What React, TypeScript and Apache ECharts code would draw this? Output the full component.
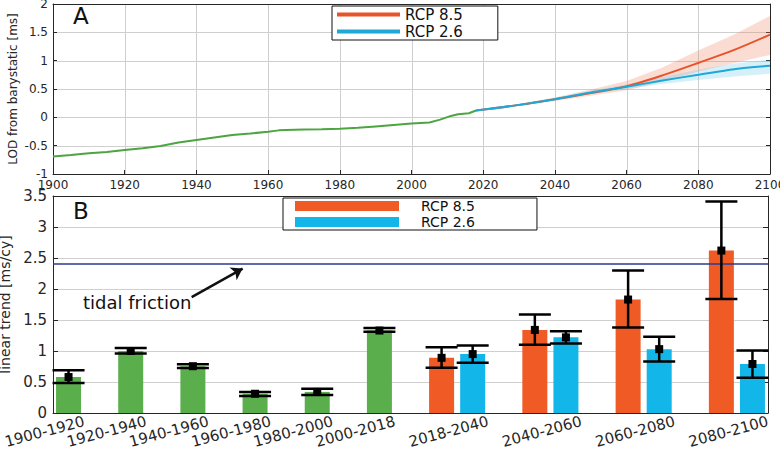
import React, { useEffect, useRef } from "react";
import * as echarts from "echarts";

// ---------- Panel A data ----------
const histYears = [1900, 1905, 1910, 1915, 1920, 1925, 1930, 1935, 1940, 1945, 1950, 1955, 1960, 1963, 1965, 1970, 1975, 1980, 1985, 1990, 1995, 2000, 2005, 2008, 2011, 2013, 2016, 2018];
const histLOD = [-0.69, -0.665, -0.635, -0.61, -0.575, -0.545, -0.505, -0.445, -0.4, -0.355, -0.31, -0.285, -0.255, -0.23, -0.225, -0.215, -0.21, -0.2, -0.185, -0.16, -0.135, -0.11, -0.09, -0.04, 0.025, 0.055, 0.072, 0.12];

const projYears = [2018, 2030, 2040, 2050, 2060, 2070, 2080, 2090, 2100];
const rcp85Mean = [0.12, 0.22, 0.32, 0.43, 0.55, 0.74, 0.96, 1.19, 1.46];
const rcp85Low = [0.12, 0.2, 0.29, 0.38, 0.48, 0.63, 0.81, 0.96, 1.1];
const rcp85High = [0.12, 0.24, 0.35, 0.49, 0.64, 0.88, 1.18, 1.46, 1.79];
const rcp26Mean = [0.12, 0.22, 0.32, 0.44, 0.54, 0.65, 0.75, 0.85, 0.91];
const rcp26Low = [0.12, 0.21, 0.3, 0.41, 0.5, 0.59, 0.66, 0.72, 0.77];
const rcp26High = [0.12, 0.23, 0.34, 0.47, 0.58, 0.71, 0.84, 0.95, 1.02];

// ---------- Panel B data ----------
const obsPeriods = ["1900-1920", "1920-1940", "1940-1960", "1960-1980", "1980-2000", "2000-2018"];
const obsTrend = [0.58, 1.0, 0.755, 0.31, 0.34, 1.33];
const obsLow = [0.485, 0.96, 0.725, 0.275, 0.29, 1.31];
const obsHigh = [0.69, 1.05, 0.785, 0.34, 0.39, 1.37];

const projPeriods = ["2018-2040", "2040-2060", "2060-2080", "2080-2100"];
const rcp85Trend = [0.89, 1.34, 1.83, 2.62];
const rcp85TrendLow = [0.73, 1.1, 1.38, 1.84];
const rcp85TrendHigh = [1.06, 1.59, 2.3, 3.41];
const rcp26Trend = [0.95, 1.22, 1.03, 0.79];
const rcp26TrendLow = [0.81, 1.12, 0.83, 0.57];
const rcp26TrendHigh = [1.09, 1.32, 1.23, 1.01];

const tidalFriction = 2.4;

// axis ranges
const yearMin = 1900, yearMax = 2100, yearStep = 20;
const lodMin = -1, lodMax = 2, lodStep = 0.5;
const trendMin = 0, trendMax = 3.5, trendStep = 0.5;
const barXMin = 0.75, barXMax = 12.25;

// colours
const GREEN_LINE = "#4ca540";
const GREEN_BAR = "#5aae4b";
const ORANGE = "#e8532a";
const ORANGE_BAR = "#f05a24";
const CYAN = "#1ea8d8";
const CYAN_BAR = "#12b6e8";
const AXIS = "#262626";
const GRIDC = "#cfcfcf";
const FONT = "DejaVu Sans";

const innerTicks = (min: number, max: number, step: number) => {
  const out: number[] = [];
  for (let k = 1; min + k * step < max - 1e-9; k++) out.push(+(min + k * step).toFixed(6));
  return out;
};

function bandSeries(name: string, low: number[], high: number[], fill: string) {
  return {
    name, type: "custom", xAxisIndex: 0, yAxisIndex: 0, silent: true, z: 1,
    data: projYears.map((y, i) => [y, low[i], high[i]]),
    encode: { x: 0, y: [1, 2] },
    renderItem: (params: any, api: any) => {
      if (params.dataIndex !== 0) return null;
      const upper = projYears.map((y, i) => api.coord([y, high[i]]));
      const lower = projYears.map((y, i) => api.coord([y, low[i]])).reverse();
      return { type: "polygon", shape: { points: upper.concat(lower) }, style: { fill } };
    },
  };
}

// grid lines: [x, y, kind] kind 0 = vertical at x, 1 = horizontal at y
function gridSeries(name: string, xAxisIndex: number, yAxisIndex: number, data: number[][],
  xr: [number, number], yr: [number, number]) {
  return {
    name, type: "custom", xAxisIndex, yAxisIndex, silent: true, z: 0,
    data, encode: { x: 0, y: 1 },
    renderItem: (_p: any, api: any) => {
      const kind = api.value(2);
      const a = kind === 0 ? api.coord([api.value(0), yr[0]]) : api.coord([xr[0], api.value(1)]);
      const b = kind === 0 ? api.coord([api.value(0), yr[1]]) : api.coord([xr[1], api.value(1)]);
      const x1 = Math.round(a[0]) + 0.5, x2 = Math.round(b[0]) + 0.5;
      const y1 = Math.round(a[1]) + 0.5, y2 = Math.round(b[1]) + 0.5;
      return {
        type: "line",
        shape: kind === 0 ? { x1, y1: a[1], x2: x1, y2: b[1] } : { x1: a[0], y1, x2: b[0], y2: y1 },
        style: { stroke: GRIDC, lineWidth: 1 },
      };
    },
  };
}

const borderAxis = (gridIndex: number, min: number, max: number, position: string) => ({
  type: "value", gridIndex, min, max, position,
  axisLine: { show: true, onZero: false, lineStyle: { color: AXIS } },
  axisTick: { show: false }, axisLabel: { show: false }, splitLine: { show: false },
});

export default function App() {
  const ref = useRef<HTMLDivElement>(null);

  useEffect(() => {
    if (!ref.current) return;
    const chart = echarts.init(ref.current, undefined, { renderer: "svg" });

    // positions on panel B's numeric x axis (layout, computed from indices)
    const obsX = obsPeriods.map((_, i) => i + 1);
    const r85X = projPeriods.map((_, j) => 7 + 1.5 * j);
    const r26X = projPeriods.map((_, j) => 7.5 + 1.5 * j);
    const labelMap: Record<number, string> = {};
    obsPeriods.forEach((p, i) => (labelMap[Math.round((obsX[i] + 0.25) * 4)] = p));
    projPeriods.forEach((p, j) => (labelMap[Math.round((r85X[j] + 0.75) * 4)] = p));

    const errData: number[][] = [];
    obsX.forEach((x, i) => errData.push([x, obsLow[i], obsHigh[i], obsTrend[i]]));
    r85X.forEach((x, j) => errData.push([x, rcp85TrendLow[j], rcp85TrendHigh[j], rcp85Trend[j]]));
    r26X.forEach((x, j) => errData.push([x, rcp26TrendLow[j], rcp26TrendHigh[j], rcp26Trend[j]]));

    const axisTextTop = { color: AXIS, fontFamily: FONT, fontSize: 12 };
    const axisTextBot = { color: AXIS, fontFamily: FONT, fontSize: 15 };

    const topGrid = [
      ...innerTicks(yearMin, yearMax, yearStep).map((v) => [v, lodMin, 0]),
      ...innerTicks(lodMin, lodMax, lodStep).map((v) => [yearMin, v, 1]),
    ];
    const botGrid = innerTicks(trendMin, trendMax, trendStep).map((v) => [barXMin, v, 1]);

    chart.setOption({
      animation: false,
      textStyle: { fontFamily: FONT },
      grid: [
        { left: 53, right: 10, top: 4, height: 170, containLabel: false, outerBoundsMode: "none" },
        { left: 53, right: 12, top: 196, height: 217, containLabel: false, outerBoundsMode: "none" },
      ],
      xAxis: [
        {
          type: "value", gridIndex: 0, min: yearMin, max: yearMax, interval: yearStep, position: "bottom",
          axisLine: { show: true, onZero: false, lineStyle: { color: AXIS } },
          axisTick: { show: true, inside: true, length: 4, lineStyle: { color: AXIS } },
          axisLabel: { ...axisTextTop, margin: 5, formatter: (v: number) => String(v) },
          splitLine: { show: false },
        },
        {
          type: "value", gridIndex: 1, min: barXMin, max: barXMax, interval: 0.25, position: "bottom",
          axisLine: { show: true, onZero: false, lineStyle: { color: AXIS } },
          axisTick: { show: false },
          splitLine: { show: false },
          axisLabel: {
            ...axisTextBot, rotate: 15, margin: 8, interval: 0,
            showMinLabel: true, showMaxLabel: true,
            formatter: (v: number) => labelMap[Math.round(v * 4)] || "",
          },
        },
        borderAxis(0, yearMin, yearMax, "top"),
        borderAxis(1, barXMin, barXMax, "top"),
      ],
      yAxis: [
        {
          type: "value", gridIndex: 0, min: lodMin, max: lodMax, interval: lodStep, position: "left",
          name: "LOD from barystatic [ms]", nameLocation: "middle", nameGap: 34, nameMoveOverlap: false,
          nameTextStyle: { color: AXIS, fontFamily: FONT, fontSize: 12 },
          axisLine: { show: true, onZero: false, lineStyle: { color: AXIS } },
          axisTick: { show: true, inside: true, length: 4, lineStyle: { color: AXIS } },
          axisLabel: { ...axisTextTop, margin: 5 },
          splitLine: { show: false },
        },
        {
          type: "value", gridIndex: 0, min: lodMin, max: lodMax, interval: lodStep, position: "right",
          axisLine: { show: true, onZero: false, lineStyle: { color: AXIS } },
          axisTick: { show: true, inside: true, length: 4, lineStyle: { color: AXIS } },
          axisLabel: { show: false }, splitLine: { show: false },
        },
        {
          type: "value", gridIndex: 1, min: trendMin, max: trendMax, interval: trendStep, position: "left",
          name: "linear trend [ms/cy]", nameLocation: "middle", nameGap: 41, nameMoveOverlap: false,
          nameTextStyle: { color: AXIS, fontFamily: FONT, fontSize: 14 },
          axisLine: { show: true, onZero: false, lineStyle: { color: AXIS } },
          axisTick: { show: true, inside: true, length: 5, lineStyle: { color: AXIS } },
          axisLabel: { ...axisTextBot, margin: 6 },
          splitLine: { show: false },
        },
        {
          type: "value", gridIndex: 1, min: trendMin, max: trendMax, interval: trendStep, position: "right",
          axisLine: { show: true, onZero: false, lineStyle: { color: AXIS } },
          axisTick: { show: true, inside: true, length: 5, lineStyle: { color: AXIS } },
          axisLabel: { show: false }, splitLine: { show: false },
        },
      ],
      legend: [
        {
          data: ["RCP 8.5", "RCP 2.6"], orient: "vertical", left: 332, top: 6,
          icon: "rect", itemWidth: 63, itemHeight: 4, itemGap: 0,
          padding: [0, 35, 0, 5], borderColor: "#111", borderWidth: 1, backgroundColor: "#fff",
          selectedMode: false,
          textStyle: { color: "#111", fontFamily: FONT, fontSize: 15, lineHeight: 17 },
        },
        {
          data: ["RCP 8.5 (B)", "RCP 2.6 (B)"], orient: "vertical", left: 283, top: 198,
          icon: "path://M0,0H104V10H0Z M120.99,4.99H121V5H120.99Z", itemWidth: 121, itemHeight: 10, itemGap: 0,
          padding: [0, 62, 0, 12], borderColor: "#111", borderWidth: 1, backgroundColor: "#fff",
          selectedMode: false,
          formatter: (n: string) => n.replace(" (B)", ""),
          textStyle: { color: "#111", fontFamily: FONT, fontSize: 14, lineHeight: 16 },
        },
      ],
      series: [
        gridSeries("gridA", 0, 0, topGrid, [yearMin, yearMax], [lodMin, lodMax]),
        gridSeries("gridB", 1, 2, botGrid, [barXMin, barXMax], [trendMin, trendMax]),
        // ----- panel A -----
        bandSeries("RCP 8.5 range", rcp85Low, rcp85High, "rgba(240,130,95,0.28)"),
        bandSeries("RCP 2.6 range", rcp26Low, rcp26High, "rgba(90,195,235,0.25)"),
        {
          name: "observed", type: "line", xAxisIndex: 0, yAxisIndex: 0,
          data: histYears.map((y, i) => [y, histLOD[i]]), symbol: "none",
          lineStyle: { color: GREEN_LINE, width: 2 }, itemStyle: { color: GREEN_LINE }, z: 3,
        },
        {
          name: "RCP 8.5", type: "line", xAxisIndex: 0, yAxisIndex: 0,
          data: projYears.map((y, i) => [y, rcp85Mean[i]]), symbol: "none", smooth: 0.3,
          lineStyle: { color: ORANGE, width: 2 }, itemStyle: { color: ORANGE }, z: 3,
        },
        {
          name: "RCP 2.6", type: "line", xAxisIndex: 0, yAxisIndex: 0,
          data: projYears.map((y, i) => [y, rcp26Mean[i]]), symbol: "none", smooth: 0.3,
          lineStyle: { color: CYAN, width: 2 }, itemStyle: { color: CYAN }, z: 4,
        },
        // ----- panel B -----
        {
          name: "observed trend", type: "bar", xAxisIndex: 1, yAxisIndex: 2, barWidth: 25,
          data: obsX.map((x, i) => [x, obsTrend[i]]), itemStyle: { color: GREEN_BAR }, z: 2,
          markLine: {
            silent: true, symbol: "none", label: { show: false },
            lineStyle: { color: "#2a3a8f", width: 1.5, type: "solid" },
            data: [{ yAxis: tidalFriction }],
          },
        },
        {
          name: "RCP 8.5 (B)", type: "bar", xAxisIndex: 1, yAxisIndex: 2, barWidth: 25,
          data: r85X.map((x, j) => [x, rcp85Trend[j]]), itemStyle: { color: ORANGE_BAR }, z: 2,
        },
        {
          name: "RCP 2.6 (B)", type: "bar", xAxisIndex: 1, yAxisIndex: 2, barWidth: 25, barGap: "-100%",
          data: r26X.map((x, j) => [x, rcp26Trend[j]]), itemStyle: { color: CYAN_BAR }, z: 2,
        },
        {
          name: "errors", type: "custom", xAxisIndex: 1, yAxisIndex: 2, z: 5,
          data: errData, encode: { x: 0, y: [1, 2, 3] },
          renderItem: (_p: any, api: any) => {
            const x = api.value(0);
            const lo = api.coord([x, api.value(1)]);
            const hi = api.coord([x, api.value(2)]);
            const mid = api.coord([x, api.value(3)]);
            const hw = 16;
            const st = { stroke: "#000", lineWidth: 2.5 };
            return {
              type: "group",
              children: [
                { type: "line", shape: { x1: lo[0], y1: lo[1], x2: hi[0], y2: hi[1] }, style: st },
                { type: "line", shape: { x1: lo[0] - hw, y1: lo[1], x2: lo[0] + hw, y2: lo[1] }, style: st },
                { type: "line", shape: { x1: hi[0] - hw, y1: hi[1], x2: hi[0] + hw, y2: hi[1] }, style: st },
                { type: "rect", shape: { x: mid[0] - 4, y: mid[1] - 4, width: 8, height: 8 }, style: { fill: "#000" } },
              ],
            };
          },
          markLine: {
            silent: true, symbol: ["none", "arrow"], symbolSize: 11, label: { show: false },
            lineStyle: { color: "#111", width: 2.5, type: "solid" },
            data: [[{ coord: [2.98, 1.87] }, { coord: [3.8, 2.33] }]],
          },
        },
      ],
      graphic: [
        { type: "text", left: 73, top: 4, style: { text: "A", fontSize: 23, fontFamily: FONT, fill: "#111" } },
        { type: "text", left: 73, top: 199, style: { text: "B", fontSize: 23, fontFamily: FONT, fill: "#111" } },
        { type: "text", left: 83, top: 293, style: { text: "tidal friction", fontSize: 18, fontFamily: FONT, fill: "#111" } },
      ],
    });

    return () => chart.dispose();
  }, []);

  return <div ref={ref} style={{ position: "absolute", left: 0, top: 0, width: 780, height: 450, background: "#fff" }} />;
}
